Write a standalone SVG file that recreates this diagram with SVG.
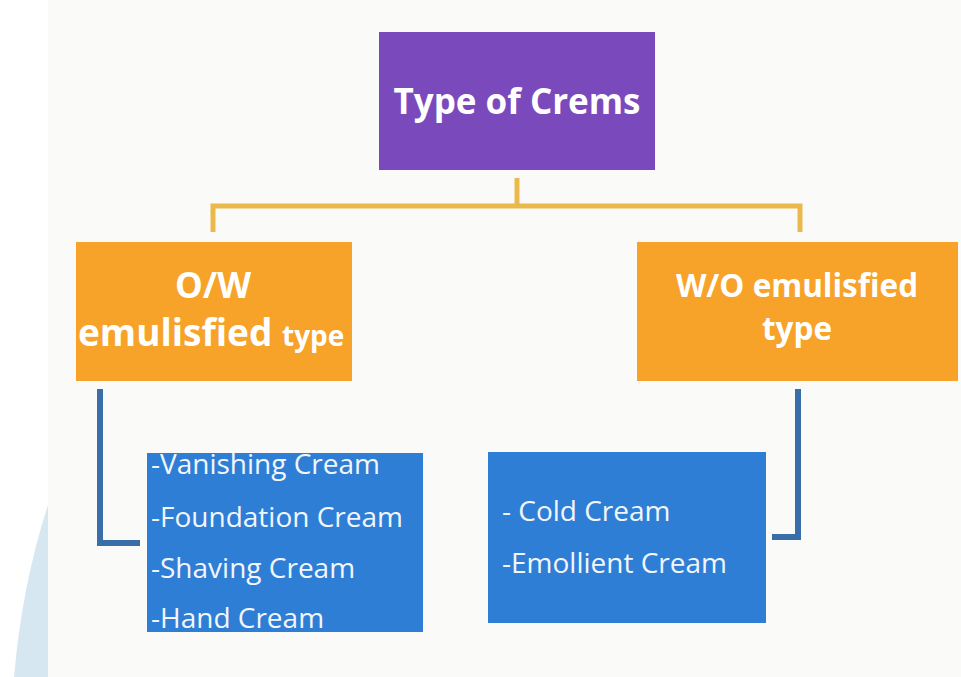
<svg xmlns="http://www.w3.org/2000/svg" width="961" height="677" viewBox="0 0 961 677">
<style>
.bg{fill:#fafaf8}
.purple{fill:#7a4abc}
.orange{fill:#f7a229}
.blue{fill:#2f7ed6}
.ycon{fill:none;stroke:#ebb84c;stroke-width:5}
.bcon{fill:none;stroke:#3a6ea9;stroke-width:6}
.t{font-family:"Open Sans","Noto Sans",sans-serif;fill:#ffffff}
.b{font-weight:bold}
.item{font-family:"Open Sans","Noto Sans",sans-serif;fill:#f2f6fb;font-size:28px}
</style>
<rect x="0" y="0" width="961" height="677" fill="#ffffff"/>
<rect class="bg" x="48" y="0" width="913" height="677"/>
<path d="M48,505 Q22,585 14,677 L48,677 Z" fill="#d6e7f1"/>
<g id="connectors">
<path class="ycon" d="M517,178 V206 M213,232 V206 H800 V232"/>
<path class="bcon" d="M100,389 V543 H140"/>
<path class="bcon" d="M798,389 V537 H772"/>
</g>
<g id="root">
<rect class="purple" x="379" y="32" width="276" height="138"/>
<text class="t b" x="517" y="114" font-size="35" text-anchor="middle">Type of Crems</text>
</g>
<g id="ow">
<rect class="orange" x="76" y="242" width="276" height="139"/>
<text class="t b" x="213" y="298" font-size="35" text-anchor="middle">O/W</text>
<text class="t b" x="78" y="346" font-size="37">emulisfied <tspan font-size="28">type</tspan></text>
</g>
<g id="wo">
<rect class="orange" x="637" y="242" width="321" height="139"/>
<text class="t b" x="797" y="297" font-size="31.5" text-anchor="middle">W/O emulisfied</text>
<text class="t b" x="797" y="340" font-size="31.5" text-anchor="middle">type</text>
</g>
<g id="ow-list">
<rect class="blue" x="147" y="453" width="276" height="179"/>
<text class="item" x="151" y="474">-Vanishing Cream</text>
<text class="item" x="151" y="527">-Foundation Cream</text>
<text class="item" x="151" y="578">-Shaving Cream</text>
<text class="item" x="151" y="628">-Hand Cream</text>
</g>
<g id="wo-list">
<rect class="blue" x="488" y="452" width="278" height="171"/>
<text class="item" x="502" y="521">- Cold Cream</text>
<text class="item" x="502" y="573">-Emollient Cream</text>
</g>
</svg>
